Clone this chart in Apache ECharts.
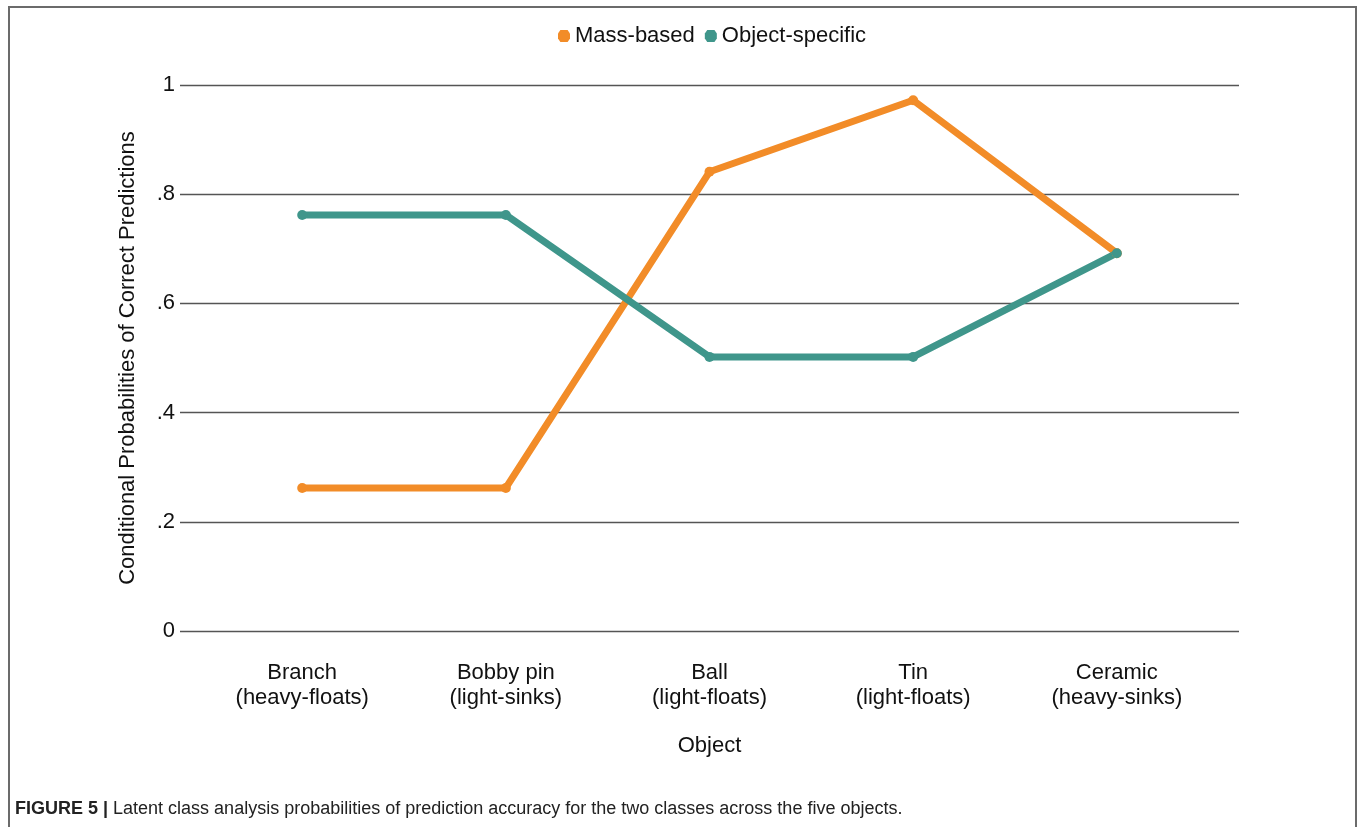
<!DOCTYPE html>
<html>
<head>
<meta charset="utf-8">
<script src="https://cdn.jsdelivr.net/npm/echarts@6/dist/echarts.min.js"></script>
<style>
html,body{margin:0;padding:0;background:#fff;}
#chart{width:1363px;height:827px;}
</style>
</head>
<body>
<div id="chart"></div>
<script>
const categories = ['Branch\n(heavy-floats)', 'Bobby pin\n(light-sinks)', 'Ball\n(light-floats)', 'Tin\n(light-floats)', 'Ceramic\n(heavy-sinks)'];
const massBased = [0.262, 0.262, 0.841, 0.972, 0.692];
const objectSpecific = [0.762, 0.762, 0.502, 0.502, 0.692];
const yTicks = [0, 0.2, 0.4, 0.6, 0.8, 1];
const yTickLabels = ['0', '.2', '.4', '.6', '.8', '1'];
const seriesNames = ['Mass-based', 'Object-specific'];
const caption = 'Latent class analysis probabilities of prediction accuracy for the two classes across the five objects.';

const chart = echarts.init(document.getElementById('chart'));
const catIdx = categories.map((_, i) => i);
const font = 'Liberation Sans, Arial, sans-serif';

chart.setOption({
  animation: false,
  backgroundColor: '#fff',
  textStyle: { fontFamily: font },
  graphic: [
    { type: 'polyline', shape: { points: [[9, 827], [9, 7], [1356, 7], [1356, 827]] },
      style: { stroke: '#6b6b6b', lineWidth: 2, fill: null } }
  ],
  title: {
    left: 10, top: 795,
    text: '{b|FIGURE 5 |}{n| ' + caption + '}',
    textStyle: {
      fontWeight: 'normal',
      rich: {
        b: { fontFamily: font, fontWeight: 'bold', fontSize: 18, color: '#222' },
        n: { fontFamily: font, fontWeight: 'normal', fontSize: 18, color: '#222' }
      }
    }
  },
  legend: {
    left: 553, top: 20,
    itemWidth: 12, itemHeight: 12, itemGap: 10,
    icon: 'path://M2,0 L8,0 L10,3 L10,7 L8,10 L2,10 L0,7 L0,3 Z',
    textStyle: { fontSize: 22, color: '#111', fontFamily: font },
    data: seriesNames
  },
  grid: { left: 180, right: 124, top: 85, bottom: 196 },
  xAxis: {
    type: 'value', min: -0.6, max: 4.6,
    name: 'Object', nameLocation: 'middle', nameGap: 104,
    nameTextStyle: { fontSize: 22, color: '#111', fontFamily: font },
    axisLine: { show: false },
    splitLine: { show: false },
    axisTick: { show: false },
    axisLabel: {
      customValues: catIdx,
      formatter: v => categories[Math.round(v)],
      fontSize: 22, lineHeight: 25, color: '#111', margin: 29, fontFamily: font
    }
  },
  yAxis: {
    type: 'value', min: 0, max: 1, interval: 0.2,
    name: 'Conditional Probabilities of Correct Predictions',
    nameLocation: 'middle', nameGap: 41,
    nameTextStyle: { fontSize: 22, color: '#111', fontFamily: font },
    axisLine: { show: false },
    axisTick: { show: false },
    splitLine: { lineStyle: { color: '#555', width: 1.3 } },
    axisLabel: {
      fontSize: 22, color: '#111', margin: 5, fontFamily: font,
      formatter: v => { const i = yTicks.findIndex(t => Math.abs(t - v) < 1e-6); return i >= 0 ? yTickLabels[i] : ''; }
    }
  },
  series: [
    { name: seriesNames[0], type: 'line', data: massBased.map((v, i) => [catIdx[i], v]),
      color: '#F28C28', lineStyle: { width: 7, color: '#F28C28' },
      symbol: 'circle', symbolSize: 10, itemStyle: { color: '#F28C28' } },
    { name: seriesNames[1], type: 'line', data: objectSpecific.map((v, i) => [catIdx[i], v]),
      color: '#3F968B', lineStyle: { width: 7, color: '#3F968B' },
      symbol: 'circle', symbolSize: 10, itemStyle: { color: '#3F968B' } }
  ]
});
</script>
</body>
</html>
